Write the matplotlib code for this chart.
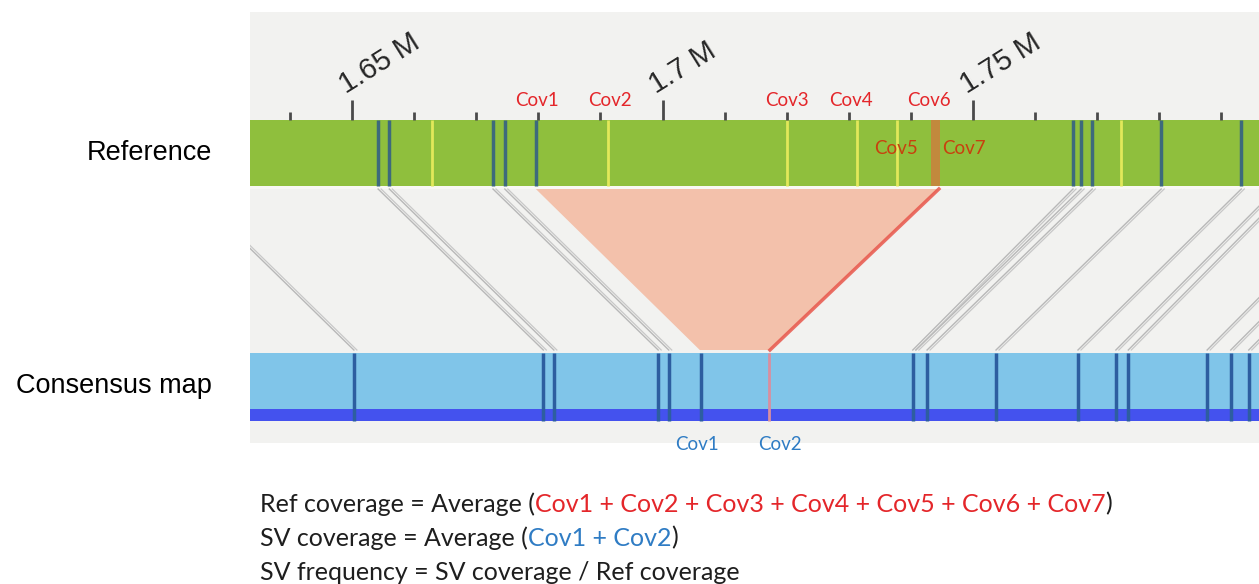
import matplotlib
matplotlib.use("Agg")
import matplotlib.pyplot as plt
from matplotlib import transforms

W, H = 1259, 584

# genome positions (Mb)
major_ticks = [1.65, 1.70, 1.75]
minor_ticks = [1.64, 1.66, 1.67, 1.68, 1.69, 1.71, 1.72, 1.73, 1.74,
               1.76, 1.77, 1.78, 1.79]

ref_nick_blue = [1.6542, 1.6560, 1.6727, 1.6746, 1.6796,
                 1.7661, 1.7674, 1.7692, 1.7803, 1.7932]
ref_nick_yellow = [1.6629, 1.6912, 1.7200, 1.7313, 1.7378, 1.7738]
ref_nick_cov7 = 1.7440

cons_nick = [1.6503, 1.6808, 1.6825, 1.6993, 1.7010, 1.7062, 1.7403, 1.7426,
             1.7537, 1.7669, 1.7730, 1.7750, 1.7877, 1.7915, 1.7944]
cons_nick_sv = 1.7171

# aligned label pairs reference -> consensus
align_ref = [1.6238, 1.6542, 1.6560, 1.6727, 1.6746, 1.7661, 1.7674, 1.7692,
             1.7803, 1.7932, 1.7988, 1.8007, 1.8134, 1.8173, 1.8202]
align_cons = [1.6503, 1.6808, 1.6825, 1.6993, 1.7010, 1.7403, 1.7408, 1.7426,
              1.7537, 1.7669, 1.7730, 1.7750, 1.7877, 1.7915, 1.7944]

# deletion (ref start/end, consensus start/end)
del_ref = [1.6796, 1.7445]
del_cons = [1.7060, 1.7173]

ref_cov_names = ["Cov1", "Cov2", "Cov3", "Cov4", "Cov6"]
ref_cov_pos = [1.6798, 1.6915, 1.7200, 1.7304, 1.7429]
ref_cov_inner_names = ["Cov5", "Cov7"]
ref_cov_inner_pos = [1.7376, 1.7486]
sv_cov_names = ["Cov1", "Cov2"]
sv_cov_pos = [1.7056, 1.7189]

RED = "#e4262a"
BLUE = "#2f7cc4"
INK = "#1e1e1e"

fig = plt.figure(figsize=(W / 100, H / 100), dpi=100)
fig.patch.set_facecolor("white")

ax = fig.add_axes([250 / W, (H - 443) / H, 1009 / W, 431 / H])
ax.set_xlim(1.63357, 1.79605)
ax.set_ylim(443, 12)
ax.set_facecolor("#f2f2f0")
for s in ax.spines.values():
    s.set_visible(False)
ax.set_xticks([])
ax.set_yticks([])

# reference bar
ax.axhspan(120, 186, color="#8fbf3d", lw=0)
ax.axhspan(186, 189, color="#f8f8f4", lw=0)
ax.vlines(ref_nick_blue, 120, 186, color="#3d6a7c", lw=2.5)
ax.vlines(ref_nick_yellow, 120, 186, color="#e2e85a", lw=2)
ax.fill_between([ref_nick_cov7 - 0.0007, ref_nick_cov7 + 0.0007], 120, 186,
                color="#c8843e", alpha=0.9, lw=0)

# ticks
ax.vlines(major_ticks, 100, 120, color="#4a4a4a", lw=2)
ax.vlines(minor_ticks, 112, 120, color="#4a4a4a", lw=2)
for t in major_ticks:
    ax.text(t - 0.0010, 94, f"{t:g} M", rotation=32, rotation_mode="anchor",
            ha="left", va="baseline", fontsize=21, color="#262626",
            family="Liberation Sans")

# alignment lines (drawn as double lines)
shift = transforms.offset_copy(ax.transData, fig=fig, x=3, y=0, units="dots")
for r, c in zip(align_ref, align_cons):
    ax.plot([r, c], [189, 350], color="#b8b8b8", lw=1.0)
    ax.plot([r, c], [189, 350], color="#c8c8c8", lw=0.9, transform=shift)

# deletion wedge
ax.fill([del_ref[0], del_ref[1], del_cons[1], del_cons[0]],
        [189, 189, 350, 350], color="#f3c1ab", lw=0)
ax.plot([del_ref[1], del_cons[1]], [189, 350], color="#e8574c", lw=2.5,
        alpha=0.85)

# consensus bar
ax.axhspan(353, 409, color="#80c5e9", lw=0)
ax.axhspan(409, 421, color="#4452ee", lw=0)
ax.vlines(cons_nick, 353, 421, color="#2d5ea0", lw=2.5)
ax.vlines([cons_nick_sv], 353, 421, color="#d98f9f", lw=2)

# coverage labels
for name, p in zip(ref_cov_names, ref_cov_pos):
    ax.text(p, 100, name, color=RED, fontsize=13.5, family="Lato",
            ha="center", va="center")
for name, p in zip(ref_cov_inner_names, ref_cov_inner_pos):
    ax.text(p, 149, name, color="#c8400e", fontsize=13.5, family="Lato",
            ha="center", va="center")
for name, p in zip(sv_cov_names, sv_cov_pos):
    ax.text(p, 444, name, color=BLUE, fontsize=13.5, family="Lato",
            ha="center", va="center", clip_on=False)

# row labels
fig.text(212 / W, 1 - 153 / H, "Reference", ha="right", va="center",
         fontsize=19.5, family="Liberation Sans", color="black")
fig.text(212 / W, 1 - 386 / H, "Consensus map", ha="right", va="center",
         fontsize=19.5, family="Liberation Sans", color="black")

# formula lines with coloured parts
renderer = fig.canvas.get_renderer()


def write_parts(x, y, parts):
    for s, col in parts:
        t = fig.text(x / W, 1 - y / H, s, color=col, fontsize=18,
                     family="Lato", ha="left", va="center")
        bb = t.get_window_extent(renderer=renderer)
        x = bb.x1


write_parts(260, 504, [("Ref coverage = Average (", INK),
                       ("Cov1 + Cov2 + Cov3 + Cov4 + Cov5 + Cov6 + Cov7", RED),
                       (")", INK)])
write_parts(260, 538, [("SV coverage = Average (", INK),
                       ("Cov1 + Cov2", BLUE),
                       (")", INK)])
write_parts(260, 572, [("SV frequency = SV coverage / Ref coverage", INK)])

fig.savefig("out.png", dpi=100)
